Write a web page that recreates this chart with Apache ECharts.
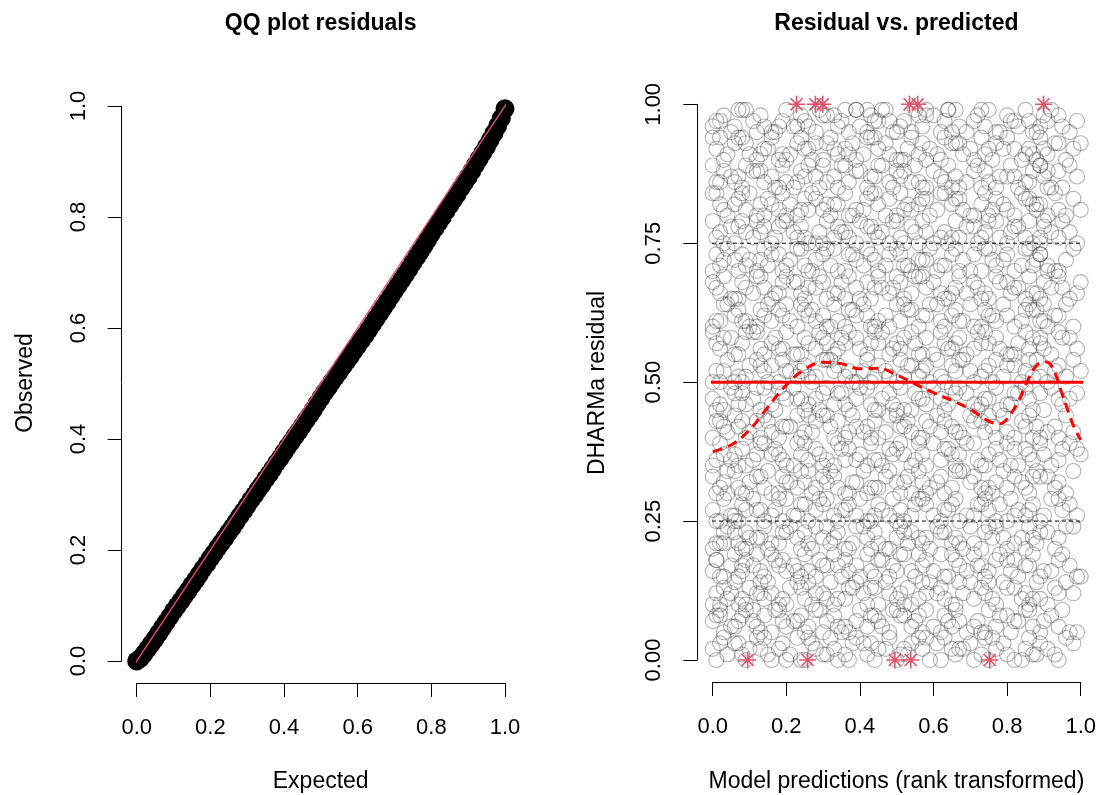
<!DOCTYPE html>
<html><head><meta charset="utf-8">
<script src="https://cdn.jsdelivr.net/npm/echarts@6/dist/echarts.min.js"></script>
<style>html,body{margin:0;padding:0;background:#fff}#c{width:1099px;height:795px}</style>
</head><body><div id="c"></div>
<script>
// ---- QQ plot (expected vs observed quantiles) ----
const qqExpected = [0,0.01,0.02,0.03,0.04,0.05,0.06,0.07,0.08,0.09,0.10,0.11,0.12,0.13,0.14,0.15,0.16,0.17,0.18,0.19,0.20,0.21,0.22,0.23,0.24,0.25,0.26,0.27,0.28,0.29,0.30,0.31,0.32,0.33,0.34,0.35,0.36,0.37,0.38,0.39,0.40,0.41,0.42,0.43,0.44,0.45,0.46,0.47,0.48,0.49,0.50,0.51,0.52,0.53,0.54,0.55,0.56,0.57,0.58,0.59,0.60,0.61,0.62,0.63,0.64,0.65,0.66,0.67,0.68,0.69,0.70,0.71,0.72,0.73,0.74,0.75,0.76,0.77,0.78,0.79,0.80,0.81,0.82,0.83,0.84,0.85,0.86,0.87,0.88,0.89,0.90,0.91,0.92,0.93,0.94,0.95,0.96,0.97,0.98,0.99,1.00];
const qqObserved = [0.000,0.005,0.013,0.022,0.031,0.040,0.050,0.060,0.070,0.080,0.090,0.099,0.108,0.118,0.127,0.137,0.146,0.156,0.166,0.175,0.185,0.194,0.204,0.213,0.222,0.232,0.241,0.251,0.261,0.270,0.280,0.290,0.299,0.309,0.318,0.328,0.337,0.347,0.357,0.366,0.376,0.386,0.395,0.405,0.414,0.424,0.434,0.443,0.453,0.464,0.474,0.484,0.493,0.503,0.512,0.521,0.531,0.540,0.549,0.559,0.568,0.578,0.587,0.597,0.607,0.617,0.627,0.637,0.647,0.657,0.667,0.677,0.687,0.697,0.707,0.718,0.728,0.738,0.748,0.759,0.770,0.780,0.790,0.800,0.811,0.821,0.831,0.841,0.852,0.862,0.872,0.883,0.894,0.905,0.916,0.927,0.939,0.951,0.964,0.978,0.995];
const qqLineEnds = [-0.04, 1.04];

// ---- Residual vs predicted (percent). Each band of residuals pairs with one of two prediction-rank lists ----
const predRankA = [0,1,3,4,6,7,9,10,12,14,15,16,18,19,21,23,24,25,27,28,30,32,33,34,36,38,39,41,42,44,45,47,48,50,51,53,54,56,57,59,61,62,63,65,66,68,70,71,73,74,76,77,79,80,82,84,85,86,88,89,91,93,94,96,98,2,8,13,20,26,31,37,43,52,58,67,75,87];
const predRankB = [0,2,3,5,6,8,9,11,13,14,16,17,19,20,22,24,25,26,28,29,31,33,34,35,37,39,40,42,43,45,46,48,49,51,52,54,55,57,58,60,62,63,64,66,67,69,71,72,74,75,77,78,80,81,83,85,86,87,89,90,92,94,95,97,99,1,7,12,18,23,30,36,44,50,56,65,73,82];
const residualBands = [
[2,0,4,1,3,3,0,2,4,4,1,0,2,3,1,4,0,0,3,2,1,4,2,0,1,3,4,3,1,0,2,2,4,0,1,1,3,4,2,0,3,0,4,2,1,2,3,0,1,4,4,2,3,1,0,0,2,4,1,3,2,1,0,4,3,3,1,2,0,4,1,0,3,2,4,2,0,1],
[7,9,5,6,6,8,9,7,5,8,5,9,7,6,7,8,5,6,9,9,7,8,6,5,5,7,9,6,8,7,6,5,9,8,8,6,7,5,9,6,5,8,7,9,7,5,6,7,5,9,6,8,8,5,7,9,9,6,5,7,8,6,9,5,5,8,7,6,9,7,5,6,8,9,8,6,5,7],
[10,12,13,11,14,10,10,13,12,11,14,12,10,11,13,14,13,11,10,12,12,14,10,11,11,13,14,12,10,13,10,14,12,11,12,13,10,11,14,14,12,13,11,10,10,12,14,11,13,12,11,10,14,13,13,11,12,10,14,11,10,13,12,14,12,10,11,12,10,14,11,13,13,10,12,14,14,11],
[16,15,15,17,19,16,18,17,16,15,19,18,18,16,17,15,19,16,15,18,17,19,17,15,16,17,15,19,16,18,18,15,17,19,19,16,15,17,18,16,19,15,15,18,17,16,19,17,15,16,18,19,18,16,15,17,17,19,15,16,16,18,19,17,15,18,15,19,17,16,17,18,15,16,19,19,17,18],
[20,21,23,24,23,21,20,22,22,24,20,21,21,23,24,22,20,23,20,24,22,21,22,23,20,21,24,24,22,23,21,20,20,22,24,21,23,22,21,20,24,23,23,21,22,20,24,21,20,23,22,24,22,20,21,22,20,24,21,23,23,20,22,24,24,21,20,22,23,21,24,20,20,23,22,21,24,22],
[27,25,29,26,25,28,27,29,27,25,26,27,25,29,26,28,28,25,27,29,29,26,25,27,28,26,29,25,25,28,27,26,29,27,25,26,28,29,28,26,25,27,27,29,25,26,26,28,29,27,25,28,25,29,27,26,27,28,25,26,29,29,27,28,26,25,25,27,29,26,28,27,26,25,29,28,28,26],
[33,30,32,34,34,31,30,32,33,31,34,30,30,33,32,31,34,32,30,31,33,34,33,31,30,32,32,34,30,31,31,33,34,32,30,33,30,34,32,31,32,33,30,31,34,34,32,33,31,30,30,32,34,31,33,32,31,30,34,33,33,31,32,30,34,31,30,33,32,34,32,30,31,32,30,34,31,33],
[35,39,37,36,37,38,35,36,39,39,37,38,36,35,35,37,39,36,38,37,36,35,39,38,38,36,37,35,39,36,35,38,37,39,37,35,36,37,35,39,36,38,38,35,37,39,39,36,35,37,38,36,39,35,35,38,37,36,39,37,35,36,38,39,38,36,35,37,37,39,35,36,36,38,39,37,35,38],
[40,43,42,41,44,42,40,41,43,44,43,41,40,42,42,44,40,41,41,43,44,42,40,43,40,44,42,41,42,43,40,41,44,44,42,43,41,40,40,42,44,41,43,42,41,40,44,43,43,41,42,40,44,41,40,43,42,44,42,40,41,42,40,44,41,43,43,40,42,44,44,41,40,42,43,41,44,40],
[47,46,45,49,48,48,46,47,45,49,46,45,48,47,49,47,45,46,47,45,49,46,48,48,45,47,49,49,46,45,47,48,46,49,45,45,48,47,46,49,47,45,46,48,49,48,46,45,47,47,49,45,46,46,48,49,47,45,48,45,49,47,46,47,48,45,46,49,49,47,48,46,45,45,47,49,46,48],
[50,52,52,54,50,51,51,53,54,52,50,53,50,54,52,51,52,53,50,51,54,54,52,53,51,50,50,52,54,51,53,52,51,50,54,53,53,51,52,50,54,51,50,53,52,54,52,50,51,52,50,54,51,53,53,50,52,54,54,51,50,52,53,51,54,50,50,53,52,51,54,52,50,51,53,54,53,51],
[59,56,58,58,55,57,59,59,56,55,57,58,56,59,55,55,58,57,56,59,57,55,56,58,59,58,56,55,57,57,59,55,56,56,58,59,57,55,58,55,59,57,56,57,58,55,56,59,59,57,58,56,55,55,57,59,56,58,57,56,55,59,58,58,56,57,55,59,56,55,58,57,59,57,55,56,57,55],
[60,61,64,64,62,63,61,60,60,62,64,61,63,62,61,60,64,63,63,61,62,60,64,61,60,63,62,64,62,60,61,62,60,64,61,63,63,60,62,64,64,61,60,62,63,61,64,60,60,63,62,61,64,62,60,61,63,64,63,61,60,62,62,64,60,61,61,63,64,62,60,63,60,64,62,61,62,63],
[68,66,69,65,65,68,67,66,69,67,65,66,68,69,68,66,65,67,67,69,65,66,66,68,69,67,65,68,65,69,67,66,67,68,65,66,69,69,67,68,66,65,65,67,69,66,68,67,66,65,69,68,68,66,67,65,69,66,65,68,67,69,67,65,66,67,65,69,66,68,68,65,67,69,69,66,65,67],
[70,73,72,74,72,70,71,72,70,74,71,73,73,70,72,74,74,71,70,72,73,71,74,70,70,73,72,71,74,72,70,71,73,74,73,71,70,72,72,74,70,71,71,73,74,72,70,73,70,74,72,71,72,73,70,71,74,74,72,73,71,70,70,72,74,71,73,72,71,70,74,73,73,71,72,70,74,71],
[79,77,75,78,75,79,77,76,77,78,75,76,79,79,77,78,76,75,75,77,79,76,78,77,76,75,79,78,78,76,77,75,79,76,75,78,77,79,77,75,76,77,75,79,76,78,78,75,77,79,79,76,75,77,78,76,79,75,75,78,77,76,79,77,75,76,78,79,78,76,75,77,77,79,75,76,76,78],
[84,84,81,80,82,83,81,84,80,80,83,82,81,84,82,80,81,83,84,83,81,80,82,82,84,80,81,81,83,84,82,80,83,80,84,82,81,82,83,80,81,84,84,82,83,81,80,80,82,84,81,83,82,81,80,84,83,83,81,82,80,84,81,80,83,82,84,82,80,81,82,80,84,81,83,83,80,82],
[89,86,88,87,86,85,89,88,88,86,87,85,89,86,85,88,87,89,87,85,86,87,85,89,86,88,88,85,87,89,89,86,85,87,88,86,89,85,85,88,87,86,89,87,85,86,88,89,88,86,85,87,87,89,85,86,86,88,89,87,85,88,85,89,87,86,87,88,85,86,89,89,87,88,86,85,85,87],
[94,92,90,91,93,94,93,91,90,92,92,94,90,91,91,93,94,92,90,93,90,94,92,91,92,93,90,91,94,94,92,93,91,90,90,92,94,91,93,92,91,90,94,93,93,91,92,90,94,91,90,93,92,94,92,90,91,92,90,94,91,93,93,90,92,94,94,91,90,92,93,91,94,90,90,93,92,91],
[96,97,98,95,96,99,99,97,98,96,95,95,97,99,96,98,97,96,95,99,98,98,96,97,95,99,96,95,98,97,99,97,95,96,97,95,99,96,98,98,95,97,99,99,96,95,97,98,96,99,95,95,98,97,96,99,97,95,96,98,99,98,96,95,97,97,99,95,96,96,98,99,97,95,98,95,99,97]
];
const residualExtra = [[89,58],[90,61],[88,66],[91,70],[89,73],[90,79],[88,82],[91,85],[89,89],[90,92],[88,95],[91,97],[90,64],[89,76],[91,88],[2,8],[5,12],[8,17],[3,21],[11,9],[6,26],[13,14],[1,18],[9,23],[4,30],[100,15],[100,37],[100,52],[100,68],[100,81],[100,93],[39,99],[42,99],[47,99],[58,99],[64,99]];
const outlierPoints = [[0.228,1],[0.279,1],[0.299,1],[0.535,1],[0.557,1],[0.899,1],[0.095,0],[0.258,0],[0.495,0],[0.538,0],[0.753,0]];
const smoothX = [0,0.05,0.10,0.15,0.20,0.25,0.30,0.35,0.40,0.45,0.50,0.55,0.60,0.65,0.70,0.75,0.78,0.80,0.83,0.86,0.88,0.90,0.92,0.95,0.98,1.00];
const smoothY = [0.375,0.387,0.414,0.455,0.495,0.523,0.536,0.533,0.524,0.525,0.513,0.497,0.481,0.467,0.451,0.430,0.425,0.434,0.465,0.508,0.530,0.537,0.530,0.478,0.422,0.396];
const quantileLines = [0.25, 0.75];
const medianLine = 0.5;
const hLineSpan = [-0.04, 1.04];

const FONT = 'Liberation Sans, Arial, sans-serif';
const chart = echarts.init(document.getElementById('c'), null, {renderer: 'canvas'});

const residualData = residualBands.flatMap((band, k) => {
  const xs = k % 2 ? predRankB : predRankA;
  return band.map((y, i) => [xs[i] / 100, y / 100]);
}).concat(residualExtra.map(p => [p[0] / 100, p[1] / 100]));

function axisCommon(offset, margin, fmt, rotate) {
  return {
    type: 'value', min: 0, max: 1, offset: offset,
    splitLine: {show: false},
    axisLine: {show: true, onZero: false, lineStyle: {color: '#000', width: 1}},
    axisTick: {show: true, length: 14, lineStyle: {color: '#000', width: 1}},
    axisLabel: {color: '#000', fontSize: 22, fontFamily: FONT, margin: margin, rotate: rotate || 0, formatter: fmt, showMinLabel: true, showMaxLabel: true}
  };
}

const starPath = 'path://M0,-10L0,10M-10,0L10,0M-7.07,-7.07L7.07,7.07M-7.07,7.07L7.07,-7.07';

const series = [
  {
    type: 'scatter', xAxisIndex: 0, yAxisIndex: 0, clip: false, silent: true,
    symbol: 'circle', symbolSize: 19,
    itemStyle: {color: '#000', opacity: 1},
    data: qqExpected.map((e, i) => [e, qqObserved[i]])
  },
  {
    type: 'line', xAxisIndex: 0, yAxisIndex: 0, clip: false, silent: true,
    symbol: 'none', lineStyle: {color: '#DF536B', width: 1.4},
    data: qqLineEnds.map(v => [v, v])
  },
  {
    type: 'scatter', xAxisIndex: 1, yAxisIndex: 1, clip: false, silent: true,
    symbol: 'circle', symbolSize: 15,
    itemStyle: {color: 'rgba(0,0,0,0)', borderColor: 'rgba(0,0,0,0.3)', borderWidth: 1.1, opacity: 1},
    data: residualData
  }
];
quantileLines.forEach(q => series.push({
  type: 'line', xAxisIndex: 1, yAxisIndex: 1, clip: false, silent: true,
  symbol: 'none', lineStyle: {color: '#000', width: 1, type: [4, 3]},
  data: hLineSpan.map(x => [x, q])
}));
series.push({
  type: 'line', xAxisIndex: 1, yAxisIndex: 1, clip: false, silent: true,
  symbol: 'none', lineStyle: {color: '#FF0000', width: 3},
  data: hLineSpan.map(x => [x, medianLine])
});
series.push({
  type: 'line', xAxisIndex: 1, yAxisIndex: 1, clip: false, silent: true,
  symbol: 'none', smooth: 0.4, lineStyle: {color: '#FF0000', width: 3, type: [10, 6]},
  data: smoothX.map((x, i) => [x, smoothY[i]])
});
series.push({
  type: 'scatter', xAxisIndex: 1, yAxisIndex: 1, clip: false, silent: true,
  symbol: starPath, symbolSize: 17,
  itemStyle: {color: '#DF536B', borderColor: '#DF536B', borderWidth: 1.6, opacity: 1},
  data: outlierPoints
});

function txt(x, y, text, opts) {
  opts = opts || {};
  return {
    type: 'text', x: x, y: y, rotation: opts.rot || 0, silent: true,
    style: {
      text: text, fill: '#000',
      font: (opts.bold ? 'bold ' : '') + (opts.size || 23) + 'px ' + FONT,
      textAlign: 'center', textVerticalAlign: 'middle', align: 'center', verticalAlign: 'middle'
    }
  };
}

chart.setOption({
  animation: false,
  grid: [
    {left: 136.7, top: 106, width: 368.3, height: 555},
    {left: 712.7, top: 104.3, width: 368, height: 555.7}
  ],
  xAxis: [
    Object.assign(axisCommon(22, 34, v => v.toFixed(1)), {gridIndex: 0, interval: 0.2}),
    Object.assign(axisCommon(22, 34, v => v.toFixed(1)), {gridIndex: 1, interval: 0.2})
  ],
  yAxis: [
    Object.assign(axisCommon(15, 32, v => v.toFixed(1), 90), {gridIndex: 0, interval: 0.2}),
    Object.assign(axisCommon(15.4, 32, v => v.toFixed(2), 90), {gridIndex: 1, interval: 0.25})
  ],
  graphic: [
    txt(320.7, 24, 'QQ plot residuals', {bold: true}),
    txt(896.4, 24, 'Residual vs. predicted', {bold: true}),
    txt(320.7, 782, 'Expected'),
    txt(896.4, 782, 'Model predictions (rank transformed)'),
    txt(26, 383, 'Observed', {rot: Math.PI / 2}),
    txt(598, 383, 'DHARMa residual', {rot: Math.PI / 2})
  ],
  series: series
});
</script>
</body></html>
